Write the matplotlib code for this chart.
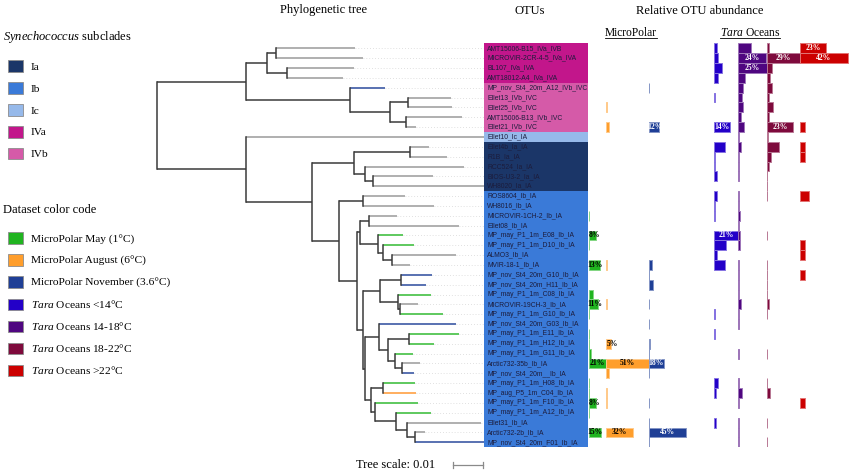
import matplotlib
matplotlib.use('Agg')
import matplotlib.pyplot as plt
from matplotlib.patches import Patch
from matplotlib.lines import Line2D
import matplotlib.transforms as mtransforms
import numpy as np

plt.rcParams['mathtext.fontset'] = 'custom'
plt.rcParams['mathtext.rm'] = 'Liberation Serif'
plt.rcParams['mathtext.it'] = 'Liberation Serif:italic'

# ---------------- data ----------------
otus = [
    "AMT15006-B15_IVa_IVB", "MICROVIR-2CR-4-5_IVa_IVA", "BL107_IVa_IVA", "AMT18012-A4_IVa_IVA",
    "MP_nov_St4_20m_A12_IVb_IVC", "Ellet13_IVb_IVC", "Ellet25_IVb_IVC", "AMT15006-B13_IVb_IVC",
    "Ellet21_IVb_IVC", "Ellet10_Ic_IA", "Ellet4b_Ia_IA", "R1B_Ia_IA", "RCC524_Ia_IA",
    "BIOS-U3-2_Ia_IA", "WH8020_Ia_IA", "ROS8604_Ib_IA", "WH8016_Ib_IA", "MICROVIR-1CH-2_Ib_IA",
    "Ellet08_Ib_IA", "MP_may_P1_1m_E08_Ib_IA", "MP_may_P1_1m_D10_Ib_IA", "ALMO3_Ib_IA",
    "MVIR-18-1_Ib_IA", "MP_nov_St4_20m_G10_Ib_IA", "MP_nov_St4_20m_H11_Ib_IA",
    "MP_may_P1_1m_C08_Ib_IA", "MICROVIR-19CH-3_Ib_IA", "MP_may_P1_1m_G10_Ib_IA",
    "MP_nov_St4_20m_G03_Ib_IA", "MP_may_P1_1m_E11_Ib_IA", "MP_may_P1_1m_H12_Ib_IA",
    "MP_may_P1_1m_G11_Ib_IA", "Arctic732-35b_Ib_IA", "MP_nov_St4_20m__Ib_IA",
    "MP_may_P1_1m_H08_Ib_IA", "MP_aug_P5_1m_C04_Ib_IA", "MP_may_P1_1m_F10_Ib_IA",
    "MP_may_P1_1m_A12_Ib_IA", "Ellet31_Ib_IA", "Arctic732-2b_Ib_IA", "MP_nov_St4_20m_F01_Ib_IA",
]

# tree (newick, leaves = row numbers, branch lengths in substitutions/site)
IVa = "((1:0.0263,2:0.0289):0.0032,(3:0.0222,4:0.0186):0.0069)"
IVb = "(5:0.0116,((6:0.0142,7:0.0147):0.0060,(8:0.0187,9:0.0033):0.0052):0.0133)"
Ia_ = "((11:0.0063,12:0.0122):0.0189,(13:0.0330,(14:0.0200,15:0.0368):0.0029):0.0037)"
IbA = "((18:0.0093,19:0.0298):0.0033,(20:0.0085,(21:0.0103,(22:0.0213,23:0.0060):0.0032):0.0017):0.0060)"
IbF = "((24:0.0105,25:0.0084):0.0069,(26:0.0111,(27:0.0060,28:0.0143):0.0007):0.0058)"
IbG = "(29:0.0257,((30:0.0168,31:0.0085):0.0068,(32:0.0061,(33:0.0059,34:0.0039):0.0023):0.0022):0.0031)"
IbH = "((35:0.0109,36:0.0110):0.0039,(37:0.0143,(38:0.0117,(39:0.0248,(40:0.0031,41:0.0239):0.0028):0.0037):0.0070):0.0013)"
IbE = "(" + IbF + ":0.0056,(" + IbG + ":0.0046," + IbH + ":0.0019):0.0006)"
Ib_ = "((16:0.0138,17:0.0236):0.0083,(" + IbA + ":0.0007," + IbE + ":0.0020):0.0063)"
cladeIV = "(" + IVa + ":0.0067," + IVb + ":0.0346)"
cladeI = "(10:0.0793,(" + Ia_ + ":0.0140," + Ib_ + ":0.0090):0.0217)"
newick = "(" + cladeIV + ":0.0297," + cladeI + ":0.0297);"

# relative abundances (%) per OTU row
mp_may = [0, 0, 0, 0, 0, 0, 0, 0, 0, 0, 0, 0, 0, 0, 0, 0, 0, 0.5, 0, 8,
          0.5, 0, 13, 0, 0, 4.8, 11, 0.5, 0, 0.5, 0.5, 3, 21, 0, 0.5, 0.5, 8, 0.5, 0, 15, 0]
mp_aug = [0, 0, 0, 0, 0, 0, 0.5, 0, 3, 0, 0, 0, 0, 0, 0, 0, 0, 0, 0, 0,
          0, 0, 0.5, 0, 0, 0, 0.5, 0, 0, 0, 5, 0, 51, 3, 0, 0.5, 0.5, 0, 0, 32, 0]
mp_nov = [0, 0, 0, 0, 0.5, 0, 0, 0, 12, 0, 0, 0, 0, 0, 0, 0, 0, 0, 0, 0,
          0, 0, 3.5, 0.5, 4.8, 0, 0.5, 0, 0.5, 0, 2, 0.5, 18, 0.5, 0, 0, 0.5, 0, 0.5, 45, 0.5]
tara_lt14 = [2, 3.5, 6.5, 3, 0, 0.8, 0, 0, 14, 0, 9.5, 0.8, 0.8, 2, 0, 2.5, 0.8, 0.8, 0, 21,
             10, 2, 9, 0, 0, 0, 0, 1, 0, 1, 0, 0, 0, 0, 3.5, 1.5, 0, 0, 1.5, 0, 0]
tara_14_18 = [11, 24, 25, 5.5, 4, 3, 4, 2.5, 5, 0.5, 2, 0.3, 0.3, 0.3, 0, 0.3, 0.3, 1.5, 0.3, 1.5,
              1.5, 0, 0.3, 0.3, 0.3, 0.3, 2, 0.3, 0.3, 0, 0, 0.3, 0, 0, 0.3, 3.5, 0.3, 0, 0.3, 0.3, 0.3]
tara_18_22 = [2, 29, 4.5, 3, 4.5, 2, 5.5, 2, 23, 1.5, 10.5, 4, 2, 0.5, 0.3, 0.3, 0, 0, 0, 0.3,
              0, 0, 0.3, 0.3, 0.3, 0.3, 2, 0.3, 0, 0, 0, 0.3, 0, 0, 0.3, 2.5, 0, 0, 0.3, 0, 0.3]
tara_gt22 = [23, 42, 0, 0, 0, 0, 0, 0, 4.5, 0, 4.5, 4.5, 0, 0, 0, 8, 0, 0, 0, 0,
             4.5, 4.5, 0, 4.5, 0, 0, 0, 0, 0, 0, 0, 0, 0, 0, 0, 0, 4.5, 0, 0, 0, 0]

subclades = ["Ia", "Ib", "Ic", "IVa", "IVb"]
subclade_colors = ["#1b3668", "#3a7ad8", "#96b9ea", "#c2168b", "#d55aa8"]
datasets = ["MicroPolar May (1°C)", "MicroPolar August (6°C)", "MicroPolar November (3.6°C)",
            r"$\mathit{Tara}$ Oceans <14°C", r"$\mathit{Tara}$ Oceans 14-18°C",
            r"$\mathit{Tara}$ Oceans 18-22°C", r"$\mathit{Tara}$ Oceans >22°C"]
dataset_colors = ["#20b420", "#ff9e2c", "#1f3f96", "#2300c8", "#4f0680", "#7e0a3c", "#cc0000"]

# ---------------- figure ----------------
W, H = 850, 473
fig = plt.figure(figsize=(8.5, 4.73), dpi=100)
fx = lambda px: px / W
fy = lambda py: 1 - py / H

ROW_TOP, ROW_BOT = 43.4, 447.2
n = len(otus)
ylim = (n + 0.5, 0.5)

def add_ax(x0, x1):
    ax = fig.add_axes([fx(x0), fy(ROW_BOT), (x1 - x0) / W, (ROW_BOT - ROW_TOP) / H])
    ax.set_ylim(*ylim)
    ax.axis('off')
    return ax

serif = 'Liberation Serif'

# ---------- tree ----------
def parse(s):
    pos = 0
    def node():
        nonlocal pos
        children = []
        if s[pos] == '(':
            pos += 1
            while True:
                children.append(node())
                if s[pos] == ',':
                    pos += 1
                    continue
                pos += 1
                break
        st = pos
        while pos < len(s) and s[pos] not in ':,);':
            pos += 1
        name = s[st:pos]
        length = 0.0
        if pos < len(s) and s[pos] == ':':
            pos += 1
            st = pos
            while s[pos] not in ',);':
                pos += 1
            length = float(s[st:pos])
        return {'name': name, 'len': length, 'children': children}
    return node()

root = parse(newick)

def layout(nd, x0):
    nd['x'] = x0 + nd['len']
    if nd['children']:
        for c in nd['children']:
            layout(c, nd['x'])
        nd['y'] = (nd['children'][0]['y'] + nd['children'][-1]['y']) / 2
    else:
        nd['y'] = int(nd['name'])

layout(root, 0.0)

PX_PER_UNIT = 3000.0
ROOT_PX = 157.3
ax_tree = add_ax(150, 490)
ax_tree.set_xlim((150 - ROOT_PX) / PX_PER_UNIT, (490 - ROOT_PX) / PX_PER_UNIT)
block_x = (484 - ROOT_PX) / PX_PER_UNIT

dark = '#3a3a3a'
def leaf_color(name):
    if name.startswith('MP_may'):
        return '#33bb33'
    if name.startswith('MP_nov'):
        return '#2b4a9c'
    if name.startswith('MP_aug'):
        return '#ff9933'
    return '#9a9a9a'

def draw(nd):
    if not nd['children']:
        return
    ys = [c['y'] for c in nd['children']]
    ax_tree.plot([nd['x'], nd['x']], [min(ys), max(ys)], color=dark, lw=1.1,
                 solid_capstyle='projecting', zorder=3)
    for c in nd['children']:
        if c['children']:
            col = dark
        else:
            col = leaf_color(otus[int(c['name']) - 1])
            ax_tree.plot([c['x'], block_x], [c['y'], c['y']], color='#d6d6d6', lw=0.6,
                         ls=(0, (1, 2.5)), zorder=1)
        ax_tree.plot([nd['x'], c['x']], [c['y'], c['y']], color=col, lw=1.1,
                     solid_capstyle='butt', zorder=2)
        draw(c)

draw(root)

# scale bar
tr = mtransforms.blended_transform_factory(ax_tree.transData, fig.transFigure)
sb0 = (453 - ROOT_PX) / PX_PER_UNIT
ax_tree.plot([sb0, sb0 + 0.01], [fy(465), fy(465)], color='#8a8a8a', lw=0.9, transform=tr, clip_on=False)
for xx in (sb0, sb0 + 0.01):
    ax_tree.plot([xx, xx], [fy(462), fy(468)], color='#8a8a8a', lw=0.9, transform=tr, clip_on=False)
fig.text(fx(395.5), fy(465), "Tree scale: 0.01", family=serif, fontsize=9, ha='center', va='center')

# ---------- OTU block ----------
ax_otu = add_ax(484, 588)
ax_otu.set_xlim(0, 1)
rows = np.arange(1, n + 1)
cmap = dict(zip(subclades, subclade_colors))
row_cols = [cmap[o.split('_')[-2]] for o in otus]
ax_otu.barh(rows, 1.0, left=0, height=1.0, color=row_cols, edgecolor='none')
for r, o in zip(rows, otus):
    ax_otu.text(0.032, r, o, fontsize=4.9, family='Liberation Sans', color='#1c1c3c',
                va='center', ha='left')

# ---------- bars ----------
def lighten(c, f=0.5):
    rgb = np.array(matplotlib.colors.to_rgb(c))
    return tuple(rgb + (1 - rgb) * f)

MP_SCALE = 0.83    # px per %
TARA_SCALE = 1.14  # px per %

def draw_group(x0, x1, scale, series, colors, txtcolors, label_min, min_half):
    ax = add_ax(x0, x1)
    ax.set_xlim(0, (x1 - x0) / scale)
    off = 0.0
    for vals, col, tcol in zip(series, colors, txtcolors):
        v = np.array(vals, dtype=float)
        m = v > 0
        ax.barh(rows[m], v[m], left=off, height=1.0, color=col,
                edgecolor=lighten(col, 0.45), linewidth=0.7)
        for r, val in zip(rows[m], v[m]):
            if val >= label_min:
                ax.text(off + max(val / 2, min_half), r, f"{val:g}%", fontsize=5.5,
                        family=serif, weight='bold', color=tcol, ha='center', va='center')
        off += v.max()
    return ax

draw_group(589, 700, MP_SCALE, [mp_may, mp_aug, mp_nov], dataset_colors[:3],
           ['black', 'black', 'white'], 5, 7)
draw_group(714.3, 850, TARA_SCALE, [tara_lt14, tara_14_18, tara_18_22, tara_gt22],
           dataset_colors[3:], ['white'] * 4, 12, 0)

# ---------- headers ----------
fig.text(fx(323.5), fy(10.5), "Phylogenetic tree", family=serif, fontsize=9, ha='center', va='center')
fig.text(fx(530), fy(10.5), "OTUs", family=serif, fontsize=9, ha='center', va='center')
fig.text(fx(700), fy(10.5), "Relative OTU abundance", family=serif, fontsize=9, ha='center', va='center')
t_mp = fig.text(fx(631), fy(32.5), "MicroPolar", family=serif, fontsize=8.3, ha='center', va='center')
t_tara = fig.text(fx(750), fy(32.5), r"$\mathit{Tara}$ Oceans", family=serif, fontsize=8.3,
                  ha='center', va='center')

# ---------- legends ----------
fig.text(fx(3.3), fy(37.3), r"$\mathit{Synechococcus}$ subclades", family=serif, fontsize=9,
         ha='left', va='center')
fig.text(fx(3.3), fy(210), "Dataset color code", family=serif, fontsize=9, ha='left', va='center')

LEG_FS = 8.2
def make_legend(labels, colors, top_py):
    handles = [Patch(facecolor=c, edgecolor='#8c8c8c', linewidth=0.6, label=l)
               for l, c in zip(labels, colors)]
    leg = fig.legend(handles=handles, loc='upper left', bbox_to_anchor=(fx(8.3), fy(top_py)),
                     frameon=False, prop={'family': serif, 'size': LEG_FS}, handlelength=1.26,
                     handleheight=1.23, labelspacing=0.87, handletextpad=0.7,
                     borderpad=0, borderaxespad=0)
    return leg

make_legend(subclades, subclade_colors, 60.3)
make_legend(datasets, dataset_colors, 232.5)

# underline sub-headers
fig.canvas.draw()
rend = fig.canvas.get_renderer()
for t in (t_mp, t_tara):
    bb = t.get_window_extent(rend)
    yline = bb.y0 + 0.5
    fig.add_artist(Line2D([bb.x0, bb.x1], [yline, yline], transform=None, color='black', lw=0.6))

fig.savefig('out.png', dpi=100)
